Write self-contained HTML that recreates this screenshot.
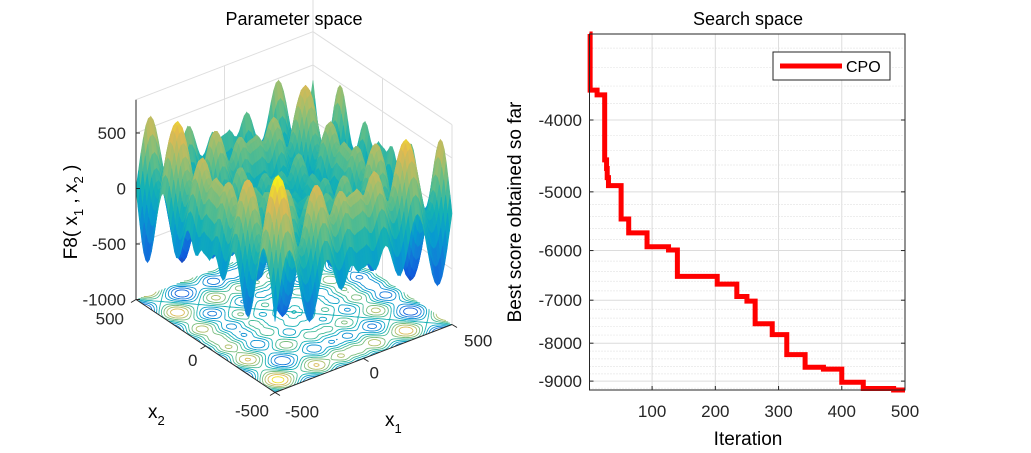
<!DOCTYPE html>
<html><head><meta charset="utf-8">
<style>
body{margin:0;background:#fff;}
svg{display:block;font-family:"Liberation Sans",Arial,sans-serif;}
</style></head>
<body>
<svg id="fig" width="1031" height="453" viewBox="0 0 1031 453">
<rect width="1031" height="453" fill="#fff"/>
<g id="left">
<text x="294" y="25" text-anchor="middle" font-size="18" fill="#000">Parameter space</text>
<g id="box"></g>
<g id="contours"></g>
<g id="surface"></g>
<g id="axes3d"></g>
<text transform="translate(77,212) rotate(-90)" text-anchor="middle" font-size="19">F8( x<tspan font-size="13" dy="6">1</tspan><tspan dy="-6"> , x</tspan><tspan font-size="13" dy="6">2</tspan><tspan dy="-6"> )</tspan></text>
<text x="148" y="418" font-size="19">x<tspan font-size="13" dy="7">2</tspan></text>
<text x="385" y="426" font-size="19">x<tspan font-size="13" dy="7">1</tspan></text>
</g>
<g id="right">
<text x="748" y="25" text-anchor="middle" font-size="18">Search space</text>
<g id="rgrid"></g>
<g id="rticks"></g>
<path id="curve" fill="none" stroke="#ff0000" stroke-width="5" stroke-linejoin="miter"/>
<rect x="589.5" y="34" width="315.5" height="356" fill="none" stroke="#262626" stroke-width="1"/>
<g>
<rect x="773" y="52" width="117" height="28" fill="#fff" stroke="#262626" stroke-width="1"/>
<line x1="780" y1="66" x2="842" y2="66" stroke="#ff0000" stroke-width="5"/>
<text x="846" y="72" font-size="16">CPO</text>
</g>
<text transform="translate(521,212) rotate(-90)" text-anchor="middle" font-size="19">Best score obtained so far</text>
<text x="748" y="445" text-anchor="middle" font-size="19">Iteration</text>
</g>
</svg>
<script>
// ---- right chart data ----
const iterations = [1, 2, 13, 25, 28, 29, 31, 51, 63, 92, 126, 140, 203, 234, 250, 263, 290, 313, 342, 371, 400, 434, 482, 500];
const bestScores = [-3062, -3645, -3700, -4527, -4650, -4783, -4905, -5440, -5680, -5930, -5990, -6500, -6660, -6920, -7020, -7530, -7790, -8290, -8620, -8670, -9030, -9210, -9270, -9270];
const xTicks = [100, 200, 300, 400, 500];
const yTicks = [-4000, -5000, -6000, -7000, -8000, -9000];
const yTickLabels = ["-4000", "-5000", "-6000", "-7000", "-8000", "-9000"];

const NS = "http://www.w3.org/2000/svg";
const PX0 = 589.5, PX1 = 905, PY0 = 34, PY1 = 390;
function sx(v){ return PX0 + (v - 1) / (500 - 1) * (PX1 - PX0); }
function sy(v){ return 120 + 322 * Math.log(Math.abs(v) / 4000); }
function mk(tag, attrs, parent){ const e = document.createElementNS(NS, tag); for (const k in attrs) e.setAttribute(k, attrs[k]); parent.appendChild(e); return e; }

const rgrid = document.getElementById('rgrid');
for (let v = 3200; v <= 9200; v += 200) {
  if (v % 1000 === 0) continue;
  const l = mk('line', {x1: PX0, x2: PX1, y1: sy(-v), y2: sy(-v), stroke: '#cfcfcf', 'stroke-width': 0.7, 'stroke-dasharray': '1,2'}, rgrid);
  
  
}
const rticks = document.getElementById('rticks');
yTicks.forEach((t, i) => {
  const y = sy(t);
  const g = mk('line', {x1: PX0, x2: PX1, y1: y, y2: y, stroke: '#dcdcdc', 'stroke-width': 1}, rgrid);
  
  
  mk('line', {x1: PX0, x2: PX0 + 4, y1: y, y2: y, stroke: '#262626'}, rticks);
  mk('line', {x1: PX1, x2: PX1 - 4, y1: y, y2: y, stroke: '#262626'}, rticks);
  const tx = mk('text', {x: 582, y: y + 6, 'text-anchor': 'end', 'font-size': 17, fill: '#262626'}, rticks);
  tx.textContent = yTickLabels[i];
  
  
});
xTicks.forEach(t => {
  const x = sx(t);
  const g = mk('line', {x1: x, x2: x, y1: PY0, y2: PY1, stroke: '#dcdcdc', 'stroke-width': 1}, rgrid);
  
  
  mk('line', {x1: x, x2: x, y1: PY1, y2: PY1 - 4, stroke: '#262626'}, rticks);
  const tx = mk('text', {x: x, y: 417, 'text-anchor': 'middle', 'font-size': 17, fill: '#262626'}, rticks);
  tx.textContent = String(t);
  
  
});
let d = '';
iterations.forEach((it, i) => {
  const x = sx(it), y = Math.min(sy(bestScores[i]), PY1);
  if (i === 0) d += 'M' + x + ',' + Math.max(y, PY0);
  else d += 'H' + x + 'V' + y;
});
document.getElementById('curve').setAttribute('d', d);

// ---- left 3D surface ----
const CX = 294, CY = 312;
const A = [88.5, -34], B = [-69.5, -46.5], ZS = 0.111;
function P(x1, x2, z){ const a = x1 / 500, b = x2 / 500; return [CX + a * A[0] + b * B[0], CY + a * A[1] + b * B[1] - (z + 1000) * ZS]; }
function F(x1, x2){ return -x1 * Math.sin(Math.sqrt(Math.abs(x1))) - x2 * Math.sin(Math.sqrt(Math.abs(x2))); }
const stops = [[0,[53,42,135]],[0.125,[15,92,221]],[0.25,[18,125,216]],[0.375,[7,156,207]],[0.5,[21,177,180]],[0.625,[89,189,140]],[0.75,[165,190,107]],[0.875,[225,185,82]],[1,[249,251,14]]];
function cmap(t){ t = Math.max(0, Math.min(1, t)); for (let i = 1; i < stops.length; i++) { if (t <= stops[i][0]) { const [t0, c0] = stops[i-1], [t1, c1] = stops[i]; const f = (t - t0) / (t1 - t0); return 'rgb(' + c0.map((c, k) => Math.round(c + (c1[k] - c) * f)).join(',') + ')'; } } return 'rgb(249,251,14)'; }
const ZMIN = -837, ZMAX = 837;
function col(z){ return cmap((z - ZMIN) / (ZMAX - ZMIN)); }

const box = document.getElementById('box');
const ZT = 800;
function L(p, q, c, w, parent){ mk('line', {x1: p[0], y1: p[1], x2: q[0], y2: q[1], stroke: c, 'stroke-width': w || 1}, parent); }
const gc = '#dedede';
L(P(500,500,-1000), P(500,500,ZT+700), gc, 1, box);
L(P(500,-500,-1000), P(500,-500,ZT), gc, 1, box);
L(P(500,500,ZT), P(-500,500,ZT), gc, 1, box);
L(P(500,500,ZT), P(500,-500,ZT), gc, 1, box);
L(P(0,500,-1000), P(0,500,ZT), gc, 1, box);
L(P(500,0,-1000), P(500,0,ZT), gc, 1, box);
[-500, 0, 500].forEach(z => { L(P(-500,500,z), P(500,500,z), gc, 1, box); L(P(500,500,z), P(500,-500,z), gc, 1, box); });

const cg = document.getElementById('contours');
const NC = 110, levels = [];
for (let l = -750; l <= 750; l += 150) levels.push(l);
const grid = [];
for (let i = 0; i <= NC; i++) { grid.push([]); for (let j = 0; j <= NC; j++) grid[i].push(F(-500 + 1000 * i / NC, -500 + 1000 * j / NC)); }
levels.forEach(lv => {
  let pd = '';
  for (let i = 0; i < NC; i++) for (let j = 0; j < NC; j++) {
    const c = [[i,j],[i+1,j],[i+1,j+1],[i,j+1]];
    const pts = [];
    for (let e = 0; e < 4; e++) {
      const p = c[e], q = c[(e+1)%4];
      const va = grid[p[0]][p[1]], vb = grid[q[0]][q[1]];
      if ((va < lv) !== (vb < lv)) {
        const f = (lv - va) / (vb - va);
        const gi = p[0] + (q[0]-p[0]) * f, gj = p[1] + (q[1]-p[1]) * f;
        pts.push(P(-500 + 1000 * gi / NC, -500 + 1000 * gj / NC, -1000));
      }
    }
    for (let k = 0; k + 1 < pts.length; k += 2) pd += 'M' + pts[k][0].toFixed(1) + ',' + pts[k][1].toFixed(1) + 'L' + pts[k+1][0].toFixed(1) + ',' + pts[k+1][1].toFixed(1);
  }
  mk('path', {d: pd, fill: 'none', stroke: col(lv), 'stroke-width': 0.9}, cg);
});

const N = 72, cells = [];
const Z = [];
for (let i = 0; i <= N; i++) { Z.push([]); for (let j = 0; j <= N; j++) Z[i].push(F(-500 + 1000 * i / N, -500 + 1000 * j / N)); }
for (let i = 0; i < N; i++) for (let j = 0; j < N; j++) {
  const a = (-500 + 1000 * (i + 0.5) / N) / 500, b = (-500 + 1000 * (j + 0.5) / N) / 500;
  cells.push([i, j, a * A[1] + b * B[1]]);
}
cells.sort((p, q) => p[2] - q[2]);
let html = '';
cells.forEach(([i, j]) => {
  const xs = [i, i+1, i+1, i], ys = [j, j, j+1, j+1];
  let zsum = 0, pd = '';
  for (let k = 0; k < 4; k++) {
    const z = Z[xs[k]][ys[k]]; zsum += z;
    const p = P(-500 + 1000 * xs[k] / N, -500 + 1000 * ys[k] / N, z);
    pd += (k ? 'L' : 'M') + p[0].toFixed(1) + ',' + p[1].toFixed(1);
  }
  const c = col(zsum / 4);
  html += '<path d="' + pd + 'Z" fill="' + c + '" stroke="' + c + '" stroke-width="0.6"/>';
});
document.getElementById('surface').innerHTML = html;

const ax = document.getElementById('axes3d');
L(P(-500,500,-1000), P(-500,500,ZT), '#262626', 1, ax);
L(P(-500,500,-1000), P(-500,-500,-1000), '#262626', 1, ax);
L(P(-500,-500,-1000), P(500,-500,-1000), '#262626', 1, ax);
function T(x, y, s, anchor, name){ const t = mk('text', {x: x, y: y, 'font-size': 17, fill: '#262626', 'text-anchor': anchor}, ax); t.textContent = s;   }
[[500,'500'],[0,'0'],[-500,'-500'],[-1000,'-1000']].forEach(([z, s]) => { const p = P(-500,500,z); L(p, [p[0]+4, p[1]], '#262626', 1, ax); T(p[0] - 10, p[1] + 6, s, 'end', 'z-tick-label'); });
[[500,'500',-12,25],[0,'0',-8,20],[-500,'-500',-6,24]].forEach(([v, s, dx, dy]) => { const p = P(-500, v, -1000); L(p, [p[0]-5, p[1]+3], '#262626', 1, ax); T(p[0] + dx, p[1] + dy, s, 'end', 'x2-tick-label'); });
[[-500,'-500',10,25],[0,'0',6,20],[500,'500',12,22]].forEach(([v, s, dx, dy]) => { const p = P(v, -500, -1000); L(p, [p[0]+5, p[1]+3], '#262626', 1, ax); T(p[0] + dx, p[1] + dy, s, 'start', 'x1-tick-label'); });
</script>
</body></html>
